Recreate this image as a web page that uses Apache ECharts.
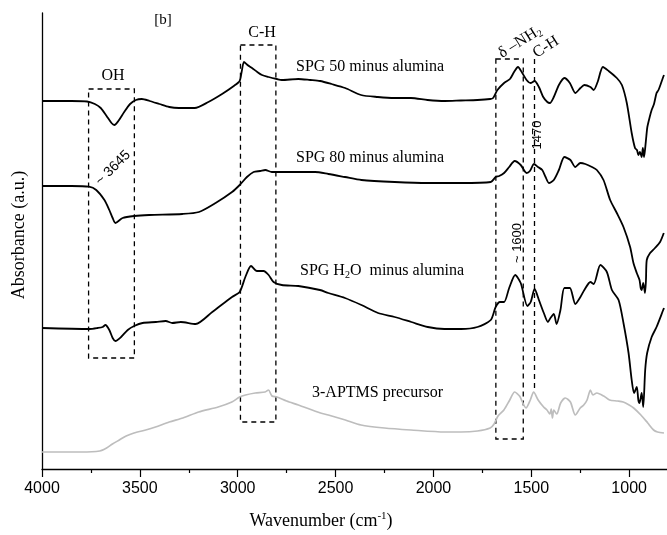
<!DOCTYPE html>
<html>
<head>
<meta charset="utf-8">
<script src="https://cdn.jsdelivr.net/npm/echarts@6/dist/echarts.min.js"></script>
<style>html,body{margin:0;padding:0;background:#fff;overflow:hidden;width:667px;height:535px}#c{width:730px;height:535px}</style>
</head>
<body>
<div id="c"></div>
<script>
// ---- data (wavenumber cm-1, absorbance a.u.) ----
const wnSPG50 = [4000,3850,3770,3730,3700,3670,3645,3630,3610,3580,3550,3520,3490,3450,3400,3350,3300,3220,3150,3080,3020,2990,2980,2968,2950,2927,2900,2876,2842,2800,2775,2690,2630,2579,2520,2451,2370,2284,2200,2115,2030,1943,1860,1775,1710,1695,1673,1639,1609,1588,1568,1546,1524,1504,1483,1461,1439,1418,1405,1385,1359,1331,1303,1275,1249,1229,1198,1181,1161,1134,1105,1063,1037,1012,987,970,960,953,945,936,930,924,919,912,907,895,885,873,860,850,835,826,822];
const abSPG50 = [3.68,3.68,3.675,3.65,3.61,3.53,3.46,3.44,3.48,3.57,3.65,3.69,3.70,3.68,3.65,3.62,3.61,3.61,3.67,3.75,3.83,3.88,3.97,4.07,4.04,4.01,3.97,3.94,3.92,3.90,3.89,3.90,3.89,3.88,3.85,3.81,3.74,3.72,3.71,3.71,3.69,3.68,3.685,3.69,3.70,3.71,3.79,3.86,3.90,3.97,4.02,3.96,3.89,3.86,3.88,3.82,3.72,3.67,3.66,3.72,3.84,3.91,3.86,3.76,3.81,3.84,3.82,3.79,3.87,4.02,3.98,3.91,3.84,3.66,3.36,3.21,3.19,3.14,3.17,3.12,3.21,3.12,3.19,3.33,3.42,3.52,3.59,3.65,3.76,3.79,3.87,3.92,3.94];

const wnSPG80 = [4000,3850,3760,3723,3681,3656,3639,3625,3588,3529,3452,3283,3198,3113,3029,2990,2953,2919,2885,2859,2826,2775,2605,2537,2452,2368,2198,2029,1859,1707,1682,1664,1639,1613,1585,1554,1524,1507,1486,1466,1444,1427,1410,1385,1359,1331,1300,1275,1249,1224,1190,1165,1131,1097,1063,1029,995,978,961,947,941,936,928,919,914,910,893,868,842,823];
const abSPG80 = [2.83,2.83,2.823,2.79,2.69,2.59,2.51,2.46,2.51,2.53,2.54,2.55,2.57,2.66,2.77,2.84,2.92,2.97,2.98,2.99,2.97,2.97,2.97,2.95,2.92,2.89,2.87,2.86,2.86,2.87,2.92,2.93,2.96,3.02,3.08,3.04,2.96,2.98,3.05,3.02,2.99,2.92,2.86,2.89,2.99,3.12,3.09,3.02,3.06,3.05,3.02,2.99,2.89,2.69,2.56,2.42,2.22,2.06,1.96,1.89,1.81,1.79,1.86,1.76,1.89,2.09,2.16,2.21,2.27,2.36];

const wnH2O = [4000,3757,3715,3690,3676,3656,3639,3625,3596,3562,3529,3486,3418,3368,3334,3291,3215,3130,3029,2990,2961,2932,2902,2868,2842,2817,2775,2690,2580,2537,2452,2368,2283,2198,2113,2029,1944,1859,1775,1707,1682,1660,1639,1613,1582,1554,1520,1503,1483,1461,1436,1415,1402,1385,1371,1351,1331,1303,1275,1249,1229,1198,1181,1147,1114,1088,1054,1029,1003,987,975,961,953,947,936,928,918,908,885,860,826,822];
const abH2O = [1.41,1.40,1.41,1.42,1.44,1.39,1.31,1.28,1.32,1.39,1.43,1.46,1.47,1.48,1.46,1.47,1.45,1.57,1.72,1.77,1.92,2.03,1.98,1.98,1.94,1.87,1.84,1.83,1.79,1.76,1.71,1.64,1.56,1.52,1.47,1.42,1.40,1.40,1.42,1.49,1.62,1.67,1.67,1.81,1.94,1.86,1.63,1.67,1.80,1.69,1.56,1.47,1.51,1.55,1.45,1.59,1.81,1.81,1.65,1.72,1.79,1.87,1.85,2.04,1.97,1.79,1.69,1.46,1.16,0.89,0.76,0.82,0.69,0.66,0.76,0.62,0.99,1.16,1.32,1.42,1.59,1.61];

const wnAPTMS = [4000,3800,3705,3670,3640,3605,3570,3530,3470,3420,3350,3280,3200,3100,3030,2990,2960,2910,2860,2843,2825,2800,2750,2690,2577,2537,2450,2370,2250,2115,1942,1860,1775,1710,1690,1670,1640,1610,1585,1560,1527,1505,1488,1465,1437,1420,1405,1398,1392,1385,1370,1350,1326,1300,1275,1250,1232,1215,1198,1185,1165,1130,1100,1060,1030,1000,977,940,905,875,855,822];
const abAPTMS = [0.17,0.17,0.18,0.21,0.25,0.29,0.33,0.36,0.39,0.42,0.47,0.51,0.57,0.62,0.67,0.72,0.74,0.76,0.77,0.79,0.73,0.72,0.68,0.64,0.56,0.54,0.49,0.44,0.41,0.39,0.37,0.37,0.38,0.41,0.45,0.53,0.59,0.69,0.77,0.73,0.61,0.69,0.77,0.69,0.62,0.59,0.55,0.60,0.51,0.59,0.55,0.66,0.71,0.67,0.54,0.61,0.64,0.69,0.79,0.74,0.76,0.73,0.69,0.68,0.67,0.64,0.61,0.54,0.46,0.39,0.37,0.36];

const xTicks = [4000,3500,3000,2500,2000,1500,1000];

// annotation boxes [wnFrom, wnTo, absTop, absBottom]
const boxOH = [3762, 3528, 3.80, 1.11];
const boxCH = [2986, 2805, 4.24, 0.47];
const boxNH2 = [1681, 1541, 4.10, 0.30];
const lineCH1470 = [1486, 4.10, 0.77];

const zip = (a, b) => a.map((v, i) => [v, b[i]]);
const chart = echarts.init(document.getElementById('c'));
const serif = 'Liberation Serif';
const sans = 'Liberation Sans';
const dash = [5, 4];
const boxArea = b => [{coord: [b[0], b[2]]}, {coord: [b[1], b[3]]}];

const blackLine = {color: '#000', width: 1.8};
chart.setOption({
  animation: false,
  grid: {left: 42, right: 0, top: 13, bottom: 66},
  xAxis: {
    type: 'value', inverse: true, min: 500, max: 4000, interval: 500,
    axisLine: {lineStyle: {color: '#000', width: 1.3}},
    axisTick: {show: true, length: 8, lineStyle: {color: '#000', width: 1.2}},
    minorTick: {show: true, splitNumber: 2, length: 4, lineStyle: {color: '#000', width: 1.2}},
    axisLabel: {
      margin: 12, fontFamily: sans, fontSize: 16, color: '#000',
      formatter: v => (xTicks.indexOf(v) >= 0 ? String(v) : '')
    },
    splitLine: {show: false}
  },
  yAxis: {
    type: 'value', min: 0, max: 4.56,
    axisLine: {show: true, lineStyle: {color: '#000', width: 1.3}},
    axisTick: {show: false}, axisLabel: {show: false}, splitLine: {show: false}
  },
  series: [
    {name: 'SPG 50 minus alumina', type: 'line', data: zip(wnSPG50, abSPG50), showSymbol: false, smooth: 0.25, lineStyle: blackLine},
    {name: 'SPG 80 minus alumina', type: 'line', data: zip(wnSPG80, abSPG80), showSymbol: false, smooth: 0.25, lineStyle: blackLine},
    {name: 'SPG H2O minus alumina', type: 'line', data: zip(wnH2O, abH2O), showSymbol: false, smooth: 0.25, lineStyle: blackLine},
    {name: '3-APTMS precursor', type: 'line', data: zip(wnAPTMS, abAPTMS), showSymbol: false, smooth: 0.25,
      lineStyle: {color: '#bdbdbd', width: 1.7},
      markArea: {
        silent: true,
        itemStyle: {color: 'rgba(0,0,0,0)', borderColor: '#000', borderWidth: 1.3, borderType: dash},
        data: [boxArea(boxOH), boxArea(boxCH), boxArea(boxNH2)]
      },
      markLine: {
        silent: true, symbol: 'none', label: {show: false},
        lineStyle: {color: '#000', width: 1.3, type: dash},
        data: [[{coord: [lineCH1470[0], lineCH1470[1]]}, {coord: [lineCH1470[0], lineCH1470[2]]}]]
      }
    }
  ],
  graphic: [
    {type: 'text', x: 163, y: 20, style: {text: '[b]', font: '15px ' + serif, fill: '#000', align: 'center', verticalAlign: 'middle'}},
    {type: 'text', x: 113, y: 76, style: {text: 'OH', font: '16px ' + serif, fill: '#000', align: 'center', verticalAlign: 'middle'}},
    {type: 'text', x: 262, y: 33, style: {text: 'C-H', font: '16px ' + serif, fill: '#000', align: 'center', verticalAlign: 'middle'}},
    {type: 'text', x: 296, y: 67, style: {text: 'SPG 50 minus alumina', font: '16px ' + serif, fill: '#000', align: 'left', verticalAlign: 'middle'}},
    {type: 'text', x: 296, y: 158, style: {text: 'SPG 80 minus alumina', font: '16px ' + serif, fill: '#000', align: 'left', verticalAlign: 'middle'}},
    {type: 'text', x: 300, y: 271, style: {
      text: '{n|SPG H}{s|2}{n|O  minus alumina}', align: 'left', verticalAlign: 'middle',
      rich: {n: {fontFamily: serif, fontSize: 16, color: '#000'}, s: {fontFamily: serif, fontSize: 10, color: '#000', padding: [8, 0, 0, 0]}}
    }},
    {type: 'text', x: 312, y: 393, style: {text: '3-APTMS precursor', font: '16px ' + serif, fill: '#000', align: 'left', verticalAlign: 'middle'}},
    {type: 'text', x: 113, y: 168, rotation: Math.PI / 4, style: {text: '~ 3645', font: '14px ' + sans, fill: '#000', align: 'center', verticalAlign: 'middle', backgroundColor: '#fff'}},
    {type: 'text', x: 520, y: 42, rotation: 0.56, style: {
      text: '{n|δ –NH}{s|2}', align: 'center', verticalAlign: 'middle',
      rich: {n: {fontFamily: serif, fontSize: 16, color: '#000'}, s: {fontFamily: serif, fontSize: 10, color: '#000', padding: [8, 0, 0, 0]}}
    }},
    {type: 'text', x: 546, y: 47, rotation: 0.56, style: {text: 'C-H', font: '16px ' + serif, fill: '#000', align: 'center', verticalAlign: 'middle'}},
    {type: 'text', x: 537, y: 135, rotation: Math.PI / 2, style: {text: '1470', font: '13px ' + sans, fill: '#000', align: 'center', verticalAlign: 'middle', backgroundColor: '#fff', padding: [0, 2]}},
    {type: 'text', x: 517, y: 243, rotation: Math.PI / 2, style: {text: '~ 1600', font: '13px ' + sans, fill: '#000', align: 'center', verticalAlign: 'middle'}},
    {type: 'text', x: 19, y: 235, rotation: Math.PI / 2, style: {text: 'Absorbance (a.u.)', font: '18px ' + serif, fill: '#000', align: 'center', verticalAlign: 'middle'}},
    {type: 'text', x: 321, y: 521, style: {
      text: '{n|Wavenumber (cm}{s|-1}{n|)}', align: 'center', verticalAlign: 'middle',
      rich: {n: {fontFamily: serif, fontSize: 18, color: '#000'}, s: {fontFamily: serif, fontSize: 11, color: '#000', padding: [0, 0, 10, 0]}}
    }}
  ]
});
</script>
</body>
</html>
